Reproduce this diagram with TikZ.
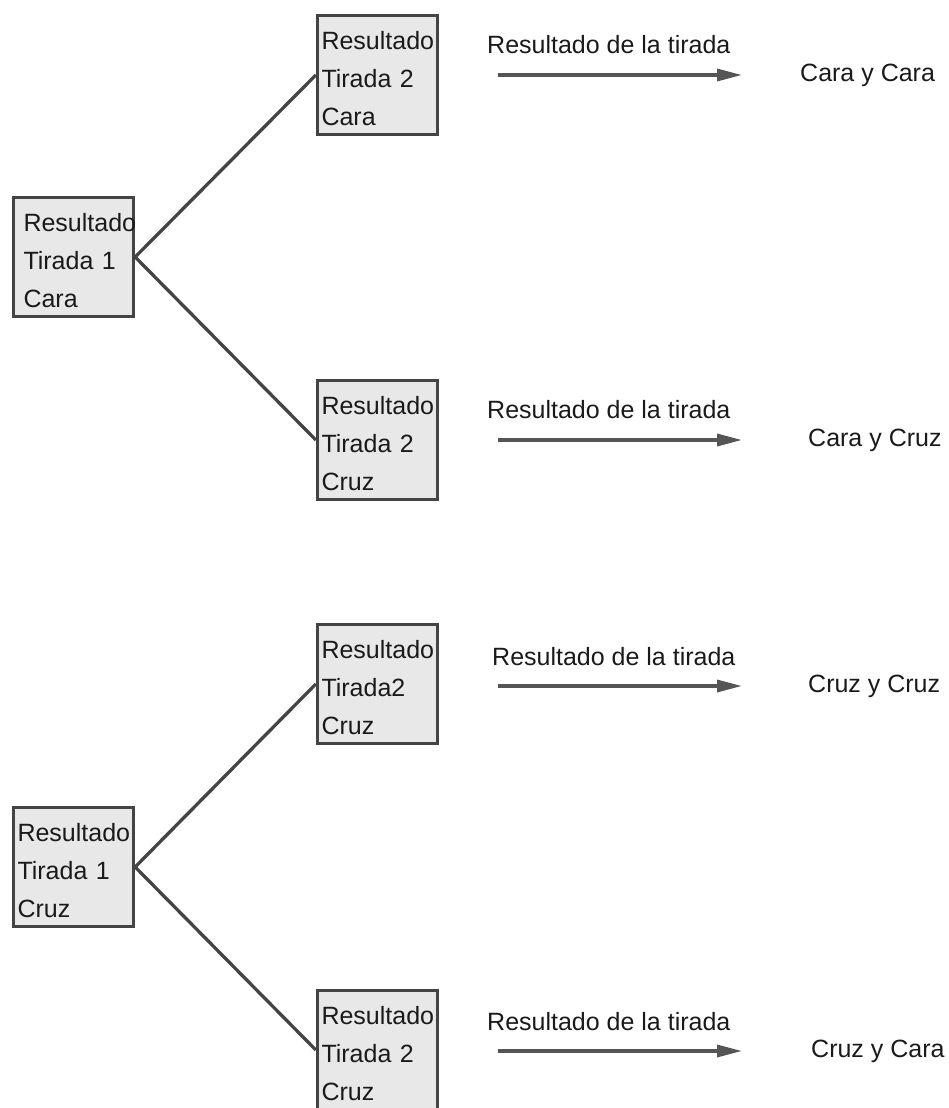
\documentclass[tikz,border=0pt]{standalone}
\usepackage{fontspec}
\setmainfont{Liberation Sans}
\usetikzlibrary{arrows.meta}
\definecolor{edge}{HTML}{444444}
\definecolor{boxfill}{HTML}{E8E8E8}
\definecolor{arrowc}{HTML}{555555}
\definecolor{txtc}{HTML}{1A1A1A}
\begin{document}
\begin{tikzpicture}[x=1pt,y=-1pt,
  every node/.style={font=\fontsize{25}{38}\selectfont, text=txtc},
  box/.style={draw=edge, line width=3.3pt, fill=boxfill, minimum width=120pt, minimum height=119pt,
    inner xsep=4pt, inner ysep=0pt, text width=112pt, align=left,
    execute at begin node={\rule{0pt}{26pt}}},
  boxwide/.style={box, inner xsep=10pt, text width=100pt},
  branch/.style={draw=edge, line width=3.3pt},
  result/.style={draw=arrowc, line width=3.3pt, -{Triangle[length=25pt,width=12pt]}},
  plain/.style={inner sep=0pt, anchor=west}
]
\useasboundingbox (0,0) rectangle (949,1108);
\clip (0,0) rectangle (949,1108);

% first tree
\node[boxwide] (a1) at (73.5,257) {Resultado\\Tirada 1\\Cara};
\node[box] (a2) at (377.5,75) {Resultado\\Tirada 2\\Cara};
\node[box] (a3) at (377.5,440) {Resultado\\Tirada 2\\Cruz};
\draw[branch] (a1.east) -- (a2.west);
\draw[branch] (a1.east) -- (a3.west);

% second tree
\node[box] (b1) at (73.5,867) {Resultado\\Tirada 1\\Cruz};
\node[box] (b2) at (377.5,684) {Resultado\\Tirada2\\Cruz};
\node[box] (b3) at (377.5,1050) {Resultado\\Tirada 2\\Cruz};
\draw[branch] (b1.east) -- (b2.west);
\draw[branch] (b1.east) -- (b3.west);

% result arrows
\coordinate (s1) at (498,75);   \coordinate (e1) at (742,75);
\coordinate (s2) at (498,440);  \coordinate (e2) at (742,440);
\coordinate (s3) at (498,686);  \coordinate (e3) at (742,686);
\coordinate (s4) at (498,1051); \coordinate (e4) at (742,1051);
\draw[result] (s1) -- (e1);
\draw[result] (s2) -- (e2);
\draw[result] (s3) -- (e3);
\draw[result] (s4) -- (e4);

\node[plain] (l1) at (487,45) {Resultado de la tirada};
\node[plain] (l2) at (487,410) {Resultado de la tirada};
\node[plain] (l3) at (492,657) {Resultado de la tirada};
\node[plain] (l4) at (487,1022) {Resultado de la tirada};

\node[plain] (r1) at (800,75) {Cara y Cara};
\node[plain] (r2) at (808,440) {Cara y Cruz};
\node[plain] (r3) at (808,686) {Cruz y Cruz};
\node[plain] (r4) at (811,1051) {Cruz y Cara};
\end{tikzpicture}
\end{document}
